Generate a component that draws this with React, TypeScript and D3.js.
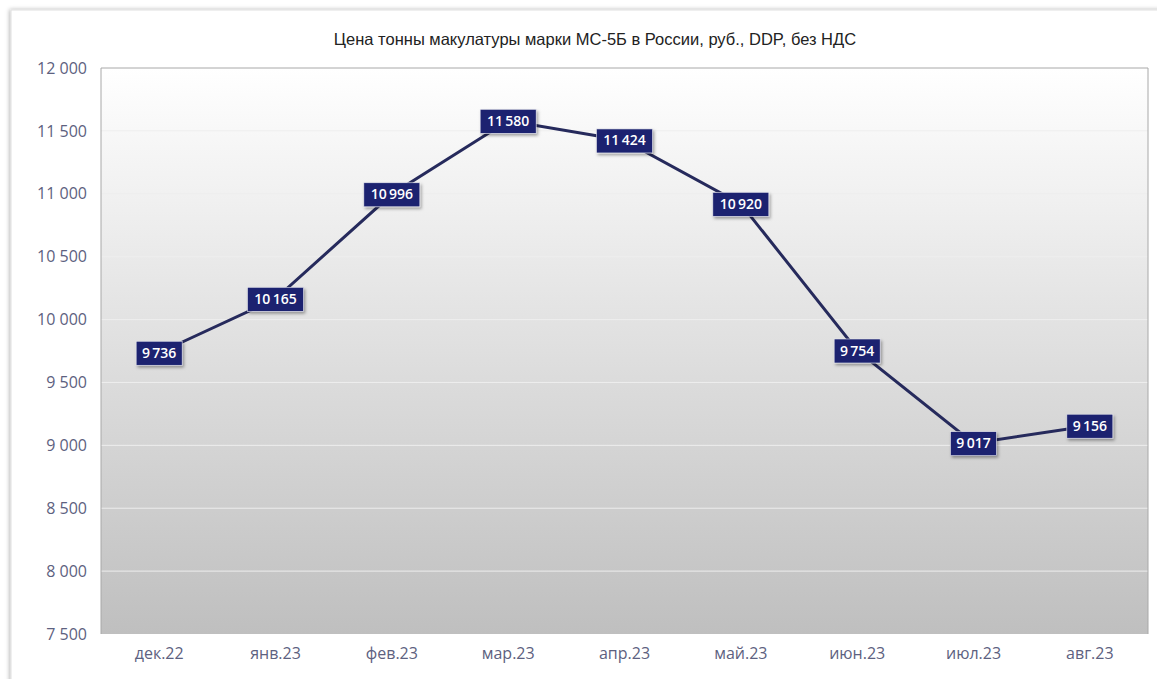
import * as d3 from 'd3';
import React, { useEffect, useRef } from 'react';

const months = ['дек.22', 'янв.23', 'фев.23', 'мар.23', 'апр.23', 'май.23', 'июн.23', 'июл.23', 'авг.23'];
const prices = [9736, 10165, 10996, 11580, 11424, 10920, 9754, 9017, 9156];
const yTicks = [7500, 8000, 8500, 9000, 9500, 10000, 10500, 11000, 11500, 12000];
const title = 'Цена тонны макулатуры марки МС-5Б в России, руб., DDP, без НДС';

const width = 1157;
const height = 679;
const margin = { top: 68, right: 9, bottom: 45, left: 101 };

const fmt = (v: number) => d3.format(',')(v).replace(/,/g, '\u2009');
const fmtTick = (v: number) => d3.format(',')(v).replace(/,/g, ' ');

export default function App() {
    const ref = useRef<SVGSVGElement>(null);

    useEffect(() => {
        const svg = d3.select(ref.current);
        svg.selectAll('*').remove();
        const innerWidth = width - margin.left - margin.right;
        const innerHeight = height - margin.top - margin.bottom;

        const defs = svg.append('defs');
        const grad = defs
            .append('linearGradient')
            .attr('id', 'bg')
            .attr('x1', 0)
            .attr('y1', 0)
            .attr('x2', 0)
            .attr('y2', 1);
        grad.append('stop').attr('offset', '0%').attr('stop-color', '#ffffff');
        grad.append('stop').attr('offset', '100%').attr('stop-color', '#bfbfbf');

        const shadow = defs.append('filter').attr('id', 'sh').attr('x', '-20%').attr('y', '-40%').attr('width', '150%').attr('height', '190%');
        shadow.append('feDropShadow').attr('dx', 1.5).attr('dy', 2).attr('stdDeviation', 1.5).attr('flood-color', '#000').attr('flood-opacity', 0.35);

        const frameShadow = defs.append('filter').attr('id', 'fsh').attr('x', '-5%').attr('y', '-5%').attr('width', '110%').attr('height', '110%');
        frameShadow.append('feDropShadow').attr('dx', -1).attr('dy', 0).attr('stdDeviation', 2).attr('flood-color', '#000').attr('flood-opacity', 0.3);

        // outer frame
        svg.append('rect')
            .attr('x', 11)
            .attr('y', 10)
            .attr('width', width + 20)
            .attr('height', height + 20)
            .attr('fill', '#fff')
            .attr('stroke', '#e0e0e0')
            .attr('filter', 'url(#fsh)');

        svg.append('text')
            .attr('x', 595)
            .attr('y', 45)
            .attr('text-anchor', 'middle')
            .attr('font-family', '"Liberation Sans Narrow", "Liberation Sans", sans-serif')
            .attr('font-size', 16.5)
            .attr('fill', '#222')
            .text(title);

        const g = svg.append('g').attr('transform', `translate(${margin.left},${margin.top})`);

        const x = d3.scaleBand().domain(months).range([0, innerWidth]);
        const y = d3.scaleLinear().domain([7500, 12000]).range([innerHeight, 0]);

        g.append('rect')
            .attr('width', innerWidth)
            .attr('height', innerHeight)
            .attr('fill', 'url(#bg)');

        g.selectAll('.grid')
            .data(yTicks.slice(1, -1))
            .join('line')
            .attr('x1', 0)
            .attr('x2', innerWidth)
            .attr('y1', (d) => y(d))
            .attr('y2', (d) => y(d))
            .attr('stroke', '#eeeeee')
            .attr('stroke-width', 1);

        // plot border top / left / right
        g.append('path')
            .attr('d', `M0,${innerHeight}V0H${innerWidth}V${innerHeight}`)
            .attr('fill', 'none')
            .attr('stroke', '#a8a8a8')
            .attr('stroke-width', 1);

        const yAxis = d3.axisLeft(y).tickValues(yTicks).tickFormat((d) => fmtTick(d as number)).tickSize(0).tickPadding(14);
        const ya = g.append('g').call(yAxis);
        ya.select('.domain').remove();
        ya.selectAll('text')
            .attr('font-family', '"Open Sans", sans-serif')
            .attr('font-size', 16)
            .attr('fill', '#5d6180');

        const xAxis = d3.axisBottom(x).tickSize(0).tickPadding(14);
        const xa = g.append('g').attr('transform', `translate(0,${innerHeight})`).call(xAxis);
        xa.select('.domain').remove();
        xa.selectAll('text')
            .attr('font-family', '"Open Sans", sans-serif')
            .attr('font-size', 16)
            .attr('fill', '#5d6180');

        const cx = (m: string) => x(m)! + x.bandwidth() / 2;
        const line = d3
            .line<number>()
            .x((d, i) => cx(months[i]))
            .y((d) => y(d));

        g.append('path')
            .datum(prices)
            .attr('d', line)
            .attr('fill', 'none')
            .attr('stroke', '#262a5c')
            .attr('stroke-width', 3);

        const labels = g
            .selectAll('.lbl')
            .data(prices)
            .join('g')
            .attr('transform', (d, i) => `translate(${cx(months[i])},${y(d)})`);

        labels
            .append('rect')
            .attr('x', (d) => (d >= 10000 ? -28 : -23))
            .attr('y', -11.5)
            .attr('width', (d) => (d >= 10000 ? 56 : 46))
            .attr('height', 24)
            .attr('fill', '#1c2370')
            .attr('stroke', '#e8e8ef')
            .attr('stroke-width', 0.6)
            .attr('filter', 'url(#sh)');

        labels
            .append('text')
            .attr('text-anchor', 'middle')
            .attr('dy', '0.36em')
            .attr('font-family', '"Open Sans", sans-serif')
            .attr('font-weight', 600)
            .attr('font-size', 14)
            .attr('fill', '#fff')
            .text((d) => fmt(d));
    }, []);

    return (
        <div style={{ position: 'absolute', left: 0, top: 0 }}>
            <svg ref={ref} width={width} height={height} style={{ display: 'block' }}></svg>
        </div>
    );
}
